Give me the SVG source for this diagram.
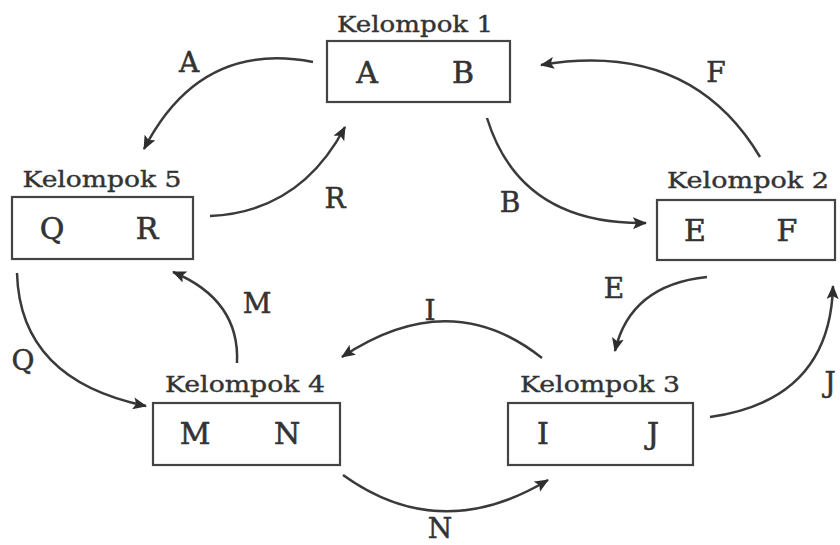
<svg xmlns="http://www.w3.org/2000/svg" width="840" height="545" viewBox="0 0 840 545">
<defs>
<marker id="ah" markerUnits="userSpaceOnUse" markerWidth="14" markerHeight="12" refX="13" refY="6" orient="auto">
<path d="M0,0 L14,6 L0,12 L3,6 z" fill="#2e2e2e"/>
</marker>
<style>
.box{fill:#fff;stroke:#444;stroke-width:2.2}
.ttl{font-family:"DejaVu Serif","Liberation Serif",serif;font-size:23px;fill:#333;stroke:#333;stroke-width:0.4;text-anchor:middle}
.let{font-family:"DejaVu Serif","Liberation Serif",serif;font-size:30px;fill:#333;stroke:#333;stroke-width:0.6;text-anchor:middle}
.lbl{font-family:"DejaVu Serif","Liberation Serif",serif;font-size:28px;fill:#333;stroke:#333;stroke-width:0.5;text-anchor:middle}
.arr{fill:none;stroke:#3a3a3a;stroke-width:2.5;marker-end:url(#ah)}
</style>
</defs>
<rect width="840" height="545" fill="#fff"/>
<g id="kelompok1">
<text class="ttl" x="415" y="32" textLength="156" lengthAdjust="spacingAndGlyphs">Kelompok 1</text>
<rect class="box" x="327" y="41" width="183" height="61"/>
<text class="let" x="367" y="83">A</text>
<text class="let" x="463" y="83">B</text>
</g>
<g id="kelompok2">
<text class="ttl" x="748" y="188" textLength="162" lengthAdjust="spacingAndGlyphs">Kelompok 2</text>
<rect class="box" x="657" y="200" width="178" height="60"/>
<text class="let" x="695" y="241">E</text>
<text class="let" x="787" y="241">F</text>
</g>
<g id="kelompok3">
<text class="ttl" x="600" y="392" textLength="160" lengthAdjust="spacingAndGlyphs">Kelompok 3</text>
<rect class="box" x="508" y="403" width="185" height="62"/>
<text class="let" x="543" y="444">I</text>
<text class="let" x="653" y="444">J</text>
</g>
<g id="kelompok4">
<text class="ttl" x="245" y="392" textLength="160" lengthAdjust="spacingAndGlyphs">Kelompok 4</text>
<rect class="box" x="153" y="403" width="187" height="62"/>
<text class="let" x="195" y="444">M</text>
<text class="let" x="287" y="444">N</text>
</g>
<g id="kelompok5">
<text class="ttl" x="102" y="187" textLength="159" lengthAdjust="spacingAndGlyphs">Kelompok 5</text>
<rect class="box" x="12" y="197" width="181" height="62"/>
<text class="let" x="52" y="239">Q</text>
<text class="let" x="147" y="239">R</text>
</g>
<g id="connectors">
<path class="arr" d="M313,62 Q200,40 144,149"/>
<path class="arr" d="M210,216 Q300,212 345,127"/>
<path class="arr" d="M487,118 Q520,225 646,223"/>
<path class="arr" d="M760,157 Q690,40 541,65"/>
<path class="arr" d="M707,277 Q630,285 615,351"/>
<path class="arr" d="M542,358 Q450,285 342,357"/>
<path class="arr" d="M237,363 Q240,300 173,272"/>
<path class="arr" d="M17,273 Q20,380 146,406"/>
<path class="arr" d="M343,475 Q440,545 548,480"/>
<path class="arr" d="M710,417 Q830,400 833,286"/>
</g>
<g id="labels">
<text class="lbl" x="189" y="72">A</text>
<text class="lbl" x="335" y="208">R</text>
<text class="lbl" x="510" y="212">B</text>
<text class="lbl" x="716" y="82">F</text>
<text class="lbl" x="614" y="298">E</text>
<text class="lbl" x="430" y="320">I</text>
<text class="lbl" x="257" y="313">M</text>
<text class="lbl" x="23" y="370">Q</text>
<text class="lbl" x="440" y="538">N</text>
<text class="lbl" x="830" y="392">J</text>
</g>
</svg>
